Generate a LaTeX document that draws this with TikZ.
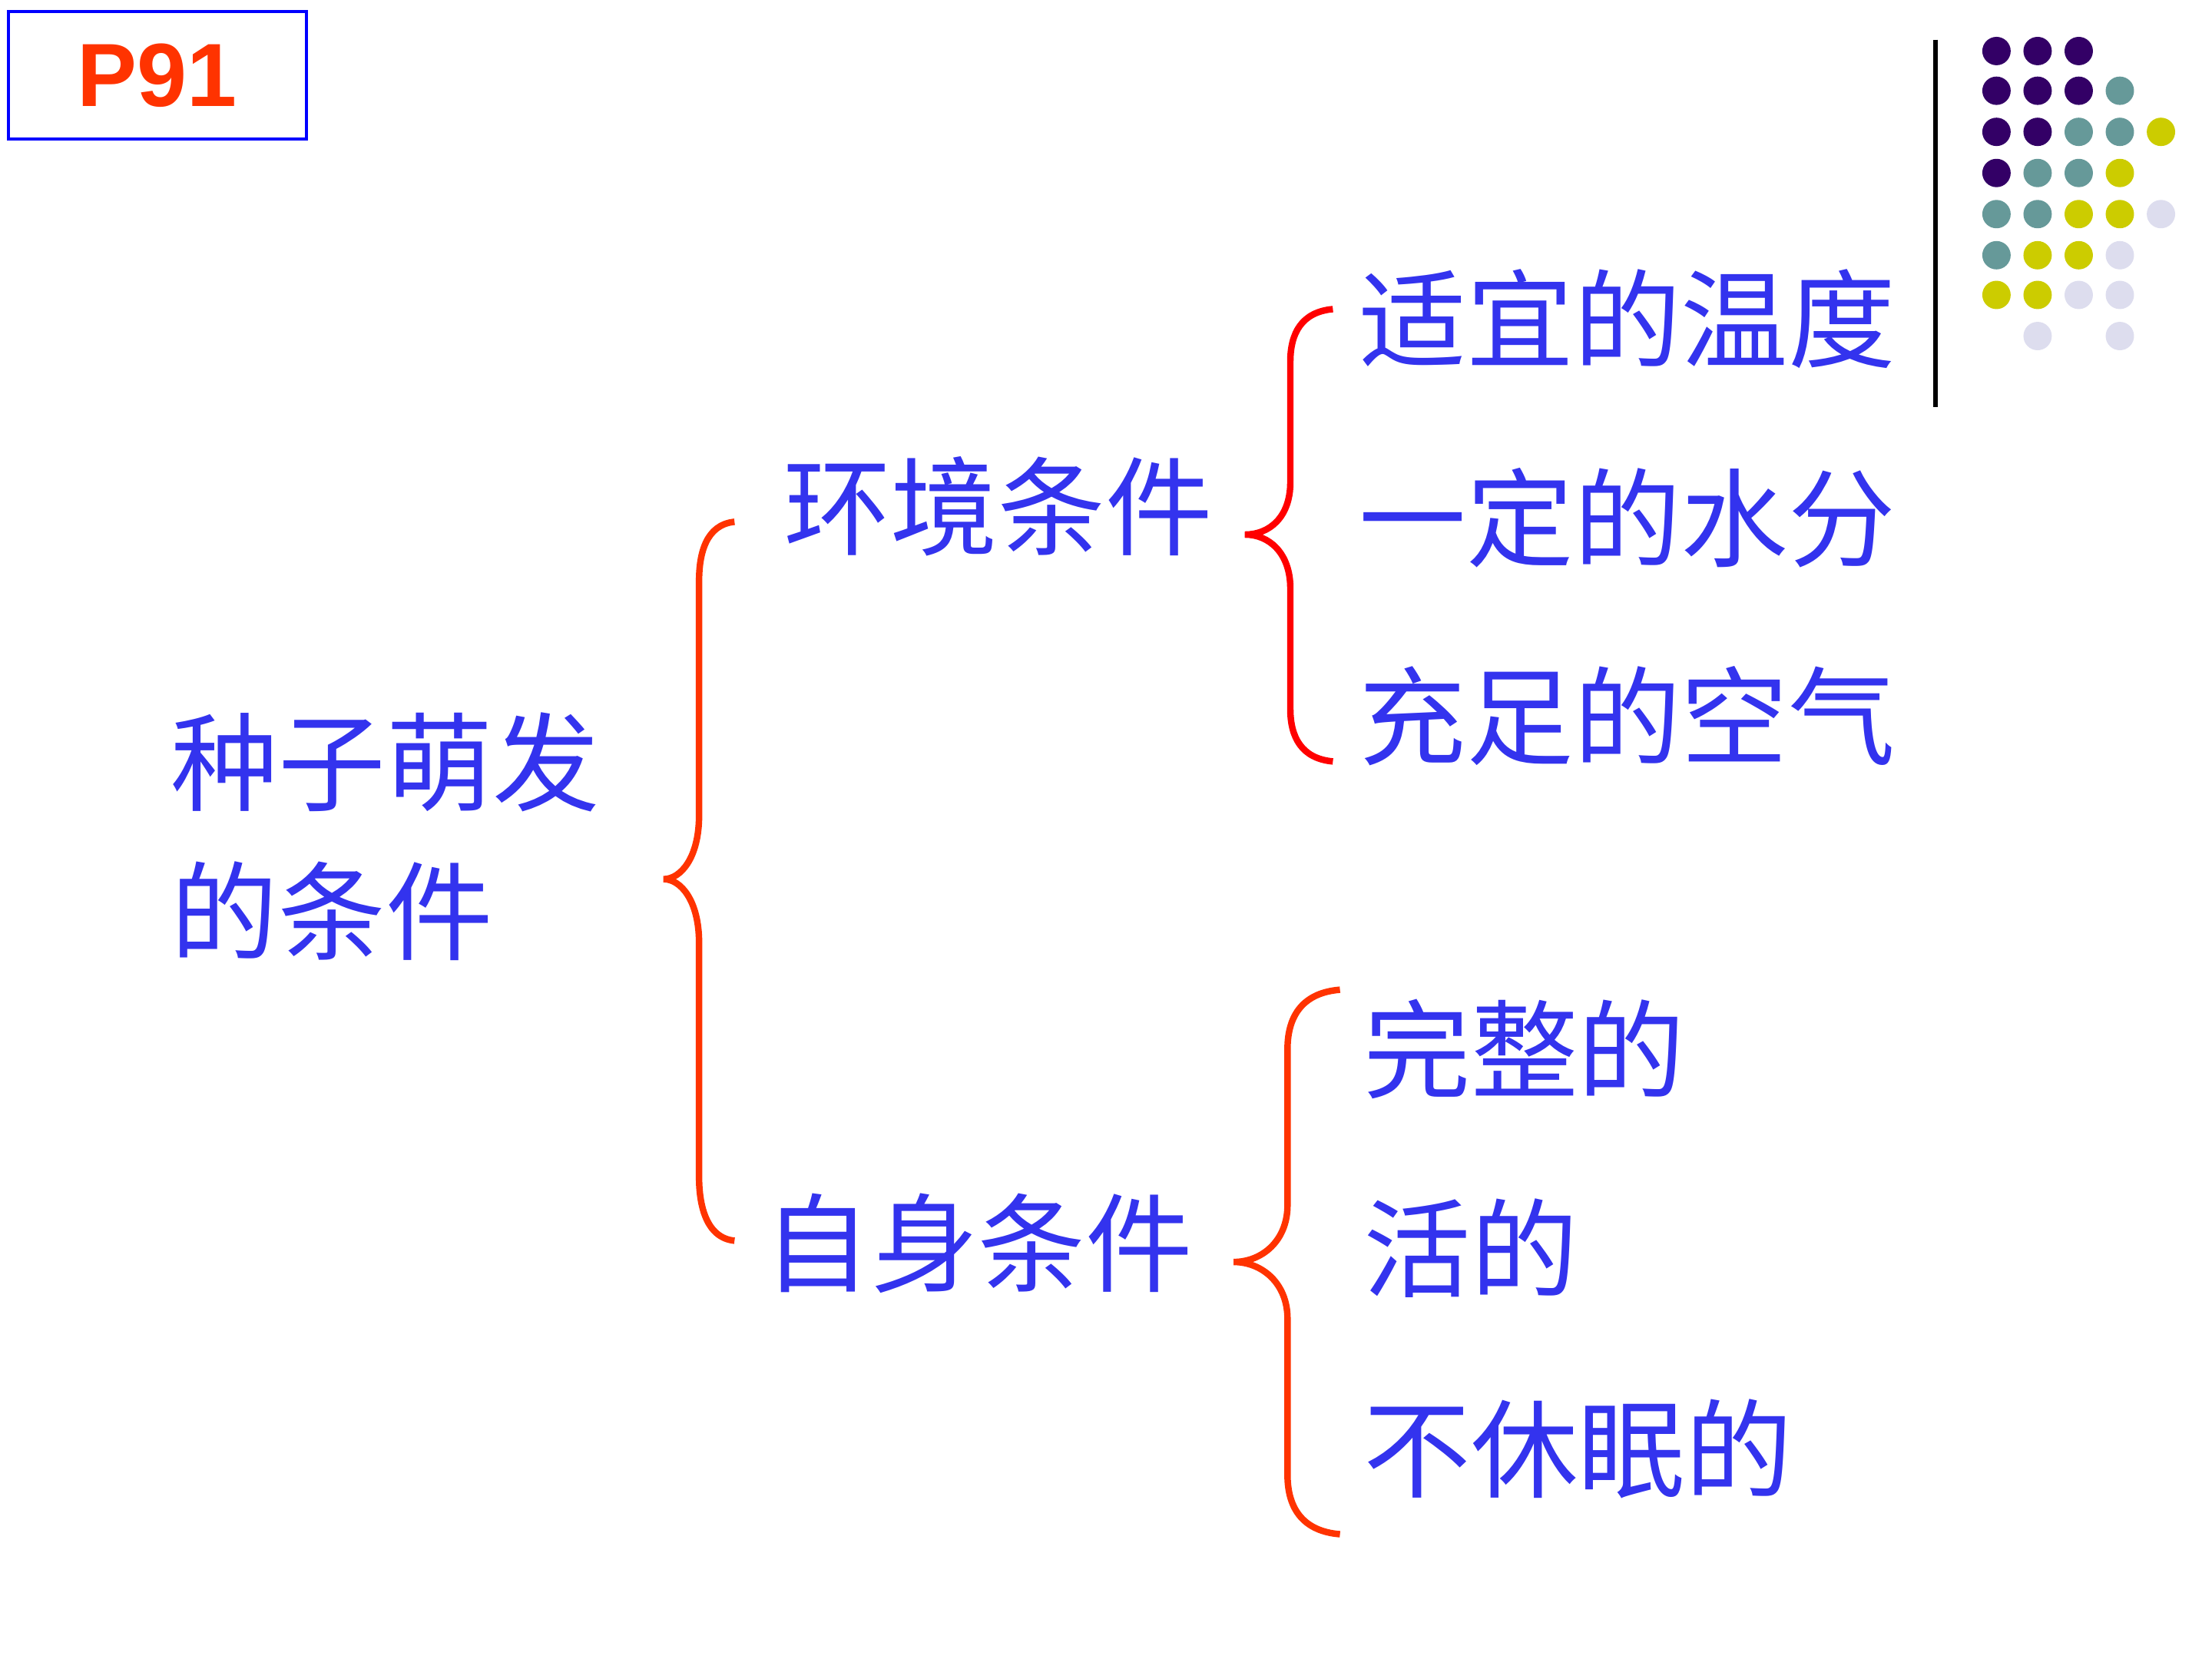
\documentclass[tikz,border=0pt]{standalone}
\usepackage{fontspec}
\setmainfont{Liberation Sans}
\newfontfamily\cjk{Noto Sans CJK SC}
\usetikzlibrary{positioning}
\definecolor{txtblue}{HTML}{3333EE}
\definecolor{bracered}{HTML}{FF3300}
\definecolor{dotP}{HTML}{330066}
\definecolor{dotT}{HTML}{669999}
\definecolor{dotY}{HTML}{CCCC00}
\definecolor{dotL}{HTML}{DDDDEE}
\tikzset{
  item/.style={anchor=west, inner sep=0pt, text=txtblue, font=\cjk\fontsize{21.5}{30}\selectfont},
  brace/.style={draw=bracered, line width=1.3pt},
  dot/.style={circle, inner sep=0pt, minimum size=0.2cm}
}
\begin{document}
\begin{tikzpicture}[x=0.01cm, y=-0.01cm]
	\useasboundingbox (0,0) rectangle (1560,1170);
	% title box
	\node (pg) [draw=blue, line width=0.6pt, minimum width=2.1cm, minimum height=0.9cm,
	  text=bracered, font=\bfseries\fontsize{18}{20}\selectfont] at (111,53) {P91};
	% decoration
	\draw[line width=0.8pt] (1365,28) -- (1365,287);
	\foreach \x/\y/\c in {1408/36/dotP,1437/36/dotP,1466/36/dotP,
	    1408/64/dotP,1437/64/dotP,1466/64/dotP,1495/64/dotT,
	    1408/93/dotP,1437/93/dotP,1466/93/dotT,1495/93/dotT,1524/93/dotY,
	    1408/122/dotP,1437/122/dotT,1466/122/dotT,1495/122/dotY,
	    1408/151/dotT,1437/151/dotT,1466/151/dotY,1495/151/dotY,1524/151/dotL,
	    1408/180/dotT,1437/180/dotY,1466/180/dotY,1495/180/dotL,
	    1408/208/dotY,1437/208/dotY,1466/208/dotL,1495/208/dotL,
	    1437/237/dotL,1495/237/dotL}
	  \node[dot, fill=\c] at (\x,\y) {};
	% texts
	\node (root) [item, align=left] at (120,590) {种子萌发\\的条件};
	\node (env) [item] at (552,357) {环境条件};
	\node (self) [item] at (538,877) {自身条件};
	\node (t1) [item] at (958,225) {适宜的温度};
	\node (t2) [item] at (958,365) {一定的水分};
	\node (t3) [item] at (958,505) {充足的空气};
	\node (s1) [item] at (961,740) {完整的};
	\node (s2) [item] at (961,880) {活的};
	\node (s3) [item] at (961,1022) {不休眠的};
	% braces
	\draw[brace] (518,368) .. controls (498,370) and (493,390) .. (493,410) -- (493,575)
	  .. controls (493,605) and (480,620) .. (468,620) .. controls (480,620) and (493,635) .. (493,665)
	  -- (493,830) .. controls (493,850) and (498,873) .. (518,875);
	\draw[brace, draw=red] (940,218) .. controls (918,220) and (910,235) .. (910,255) -- (910,340)
	  .. controls (910,365) and (895,377) .. (878,377) .. controls (895,377) and (910,390) .. (910,415)
	  -- (910,500) .. controls (910,520) and (918,535) .. (940,537);
	\draw[brace] (945,698) .. controls (920,700) and (908,715) .. (908,740) -- (908,850)
	  .. controls (908,875) and (890,890) .. (870,890) .. controls (890,890) and (908,905) .. (908,930)
	  -- (908,1040) .. controls (908,1065) and (920,1080) .. (945,1082);
\end{tikzpicture}
\end{document}
